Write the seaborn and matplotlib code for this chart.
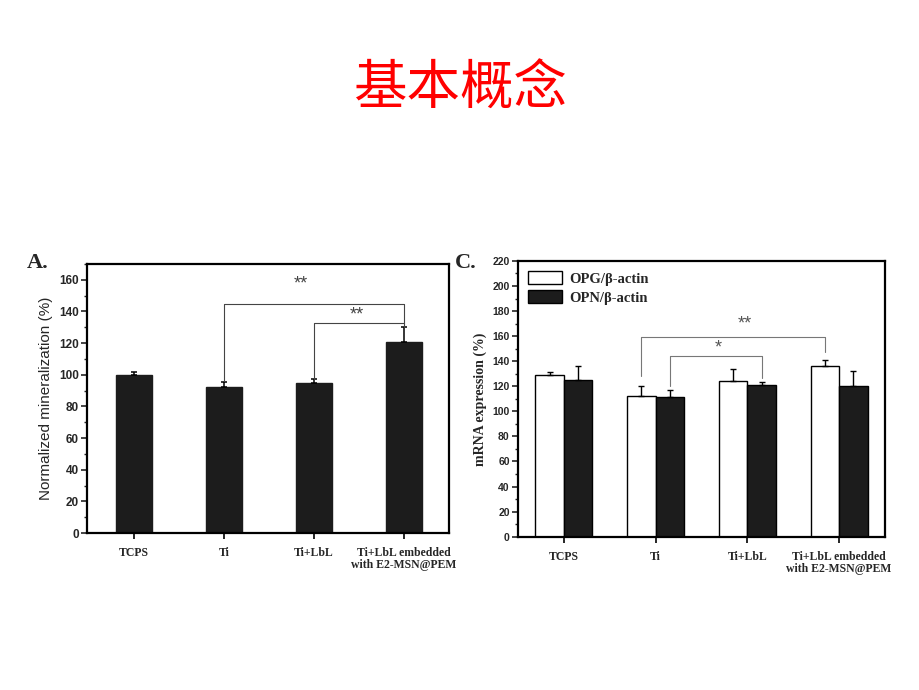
import numpy as np
import pandas as pd
import matplotlib
matplotlib.use("Agg")
import matplotlib.pyplot as plt
from matplotlib.ticker import MultipleLocator
from matplotlib.patches import Patch
import seaborn as sns

# --- data ---
groups = ["TCPS", "Ti", "Ti+LbL", "Ti+LbL embedded\nwith E2-MSN@PEM"]

mineral = [100, 92, 94.5, 121]
mineral_err = [2.0, 3.5, 3.0, 9.0]

opg = [128.8, 112.5, 124.0, 136.5]
opg_err = [2.5, 8.0, 10.0, 4.8]
opn = [125.3, 111.7, 121.3, 120.5]
opn_err = [11.2, 5.6, 2.4, 12.0]
genes = ["OPG/β-actin", "OPN/β-actin"]

sns.set_style("white")
plt.rcParams["font.family"] = ["Liberation Sans", "DejaVu Sans"]
SERIF = ["Liberation Serif", "DejaVu Serif"]

fig = plt.figure(figsize=(9.2, 6.9), dpi=100)
fig.patch.set_facecolor("white")

fig.text(0.5, 0.870, "基本概念", color="red", fontsize=38.5,
         ha="center", va="center", family=["Noto Sans CJK SC", "DejaVu Sans"])


def style_axis(ax, ymax, tick_size):
    for s in ax.spines.values():
        s.set_visible(True)
        s.set_color("black")
        s.set_linewidth(1.6)
    ax.set_ylim(0, ymax)
    ax.set_xlim(-0.52, 3.5)
    ax.yaxis.set_major_locator(MultipleLocator(20))
    ax.yaxis.set_minor_locator(MultipleLocator(10))
    ax.tick_params(axis="y", which="major", direction="out", length=4, width=1.2,
                   left=True, labelsize=tick_size, pad=2)
    ax.tick_params(axis="y", which="minor", direction="out", length=2.5, width=1,
                   left=True)
    ax.tick_params(axis="x", direction="out", length=4, width=1.4, bottom=True, pad=6)
    for lab in ax.get_yticklabels():
        lab.set_fontweight("bold")
    ax.set_xticks(range(len(groups)))
    ax.set_xticklabels(groups, fontsize=8.5, fontweight="bold", family=SERIF,
                       linespacing=1.0)
    ax.set_xlabel("")


# ---------- A ----------
axA = fig.add_axes([0.0946, 0.2275, 0.3935, 0.3899])
dfA = pd.DataFrame({"group": groups, "value": mineral})
sns.barplot(data=dfA, x="group", y="value", color="#1c1c1c", edgecolor="#1c1c1c",
            width=0.4, ax=axA)
axA.errorbar(range(len(groups)), mineral, yerr=[np.zeros(4), mineral_err],
             fmt="none", ecolor="black", elinewidth=1.1, capsize=2.5, capthick=1.1)
style_axis(axA, 170, 8.5)
axA.set_ylabel("Normalized mineralization (%)", fontsize=11, labelpad=4)
axA.plot([1, 1, 3, 3], [96, 145, 145, 133], color="#444444", lw=0.8)
axA.plot([2, 2, 3, 3], [97.5, 133, 133, 130], color="#444444", lw=0.8)
axA.text(1.85, 157.5, "**", ha="center", va="center", fontsize=13, color="#444444")
axA.text(2.48, 138, "**", ha="center", va="center", fontsize=13, color="#444444")
fig.text(0.029, 0.612, "A.", fontsize=16, fontweight="bold", family=SERIF)

# ---------- C ----------
axC = fig.add_axes([0.563, 0.2222, 0.3989, 0.3996])
dfC = pd.DataFrame({
    "group": groups * 2,
    "gene": [genes[0]] * 4 + [genes[1]] * 4,
    "value": opg + opn,
})
sns.barplot(data=dfC, x="group", y="value", hue="gene", hue_order=genes,
            palette=["white", "#1c1c1c"], edgecolor="black", linewidth=1.0,
            width=0.62, gap=0, legend=False, ax=axC)
for cont, vals, errs in zip(axC.containers, [opg, opn], [opg_err, opn_err]):
    xs = [b.get_x() + b.get_width() / 2 for b in cont]
    axC.errorbar(xs, vals, yerr=[np.zeros(4), errs], fmt="none", ecolor="black",
                 elinewidth=1.0, capsize=2.5, capthick=1.0)
style_axis(axC, 220, 7.5)
axC.set_xlim(-0.5, 3.5)
axC.set_ylabel("mRNA expression (%)", fontsize=10, fontweight="bold",
               family=SERIF, labelpad=4)
xo = [b.get_x() + b.get_width() / 2 for b in axC.containers[0]]
xn = [b.get_x() + b.get_width() / 2 for b in axC.containers[1]]
axC.plot([xo[1], xo[1], xo[3], xo[3]], [128, 159, 159, 147.5], color="#777777", lw=0.8)
axC.plot([xn[1], xn[1], xn[2], xn[2]], [120, 144, 144, 127], color="#777777", lw=0.8)
axC.text(1.97, 170, "**", ha="center", va="center", fontsize=13, color="#555555")
axC.text(1.68, 150.5, "*", ha="center", va="center", fontsize=13, color="#555555")
handles = [Patch(facecolor="white", edgecolor="black", linewidth=1.0),
           Patch(facecolor="#1c1c1c", edgecolor="black", linewidth=1.0)]
axC.legend(handles, genes, loc="upper left", frameon=False,
           prop={"family": SERIF, "weight": "bold", "size": 10.5},
           handlelength=2.3, handleheight=1.0, handletextpad=0.5,
           labelspacing=0.3, borderaxespad=0.3)
fig.text(0.494, 0.612, "C.", fontsize=16, fontweight="bold", family=SERIF)

fig.savefig("out.png", dpi=100, facecolor="white")
